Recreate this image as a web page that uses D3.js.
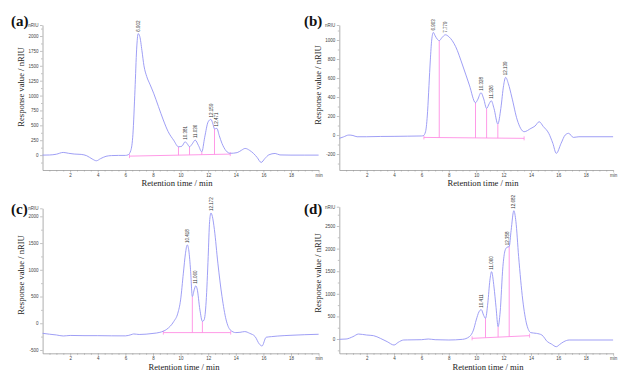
<!DOCTYPE html>
<html><head><meta charset="utf-8">
<script src="https://cdn.jsdelivr.net/npm/d3@7"></script>
<style>
html,body{margin:0;padding:0;background:#fff;}
svg{display:block;}
</style></head>
<body>
<svg id="chart" width="634" height="384"></svg>
<script>
// ---------- DATA ----------
const xTicks = [2, 4, 6, 8, 10, 12, 14, 16, 18, 20];

// Panel (a)
const timesA  = [0,0.5,1.0,1.5,1.9,2.3,2.8,3.2,3.6,3.9,4.2,4.6,5.0,5.5,6.0,6.2,6.4,6.55,6.7,6.82,6.93,7.05,7.2,7.35,7.55,7.8,8.05,8.4,8.75,9.1,9.5,9.85,10.1,10.33,10.5,10.65,10.85,11.06,11.3,11.54,11.75,12.0,12.2,12.35,12.46,12.63,12.8,13.0,13.3,13.6,14.1,14.4,14.68,15.0,15.3,15.55,15.84,16.1,16.4,16.85,17.2,18,19,20];
const valuesA = [0,2,15,45,30,18,12,-10,-65,-95,-60,-20,-8,-5,-5,5,80,350,1100,1780,2040,1990,1760,1500,1320,1180,1040,815,590,395,250,140,150,224,185,140,190,252,160,56,300,560,600,520,440,449,330,197,72,30,42,80,112,80,25,-40,-123,-60,5,28,3,0,0,0];
const yTicksA = [0,250,500,750,1000,1250,1500,1750,2000];
const peakTimesA  = [6.93, 10.33, 11.06, 12.2, 12.63];
const peakValuesA = [2040, 224, 252, 600, 449];
const peakLabelsA = ["6.902", "10.381", "11.036", "12.159", "12.471"];
const dropTimesA  = [9.85, 10.65, 11.54, 12.46];
const baseTimesA  = [6.3, 13.6];
const baseValuesA = [-17, 17];

// Panel (b)
const timesB  = [0,0.3,0.7,1.0,1.3,2,3,4,5,6,6.15,6.3,6.45,6.55,6.65,6.75,6.87,7.0,7.15,7.3,7.5,7.75,8.0,8.5,9.0,9.5,9.95,10.1,10.35,10.55,10.76,10.95,11.1,11.3,11.58,11.8,12.0,12.15,12.35,12.6,13.0,13.5,14.0,14.3,14.6,14.9,15.3,15.6,15.85,16.2,16.5,16.75,17.1,17.5,20];
const valuesB = [-35,-20,0,-5,-18,-18,-15,-14,-12,-10,-5,35,250,520,790,1000,1080,1045,1010,993,1025,1055,1035,930,737,526,340,370,445,380,280,330,361,280,116,280,520,607,540,400,158,35,70,95,140,90,18,-88,-193,-88,0,18,-25,-18,-18];
const yTicksB = [-200,0,200,400,600,800,1000];
const peakTimesB  = [6.87, 7.75, 10.35, 11.1, 12.15];
const peakValuesB = [1080, 1055, 445, 361, 607];
const peakLabelsB = ["6.903", "7.779", "10.328", "11.326", "12.139"];
const dropTimesB  = [7.3, 9.95, 10.76, 11.58];
const baseTimesB  = [6.18, 13.5];
const baseValuesB = [-25, -35];

// Panel (c)
const timesC  = [0,0.5,1,1.5,2,3,4,5,6,6.4,6.6,7,8,8.5,9,9.5,9.8,10.0,10.2,10.35,10.48,10.6,10.72,10.85,11.0,11.1,11.2,11.4,11.58,11.7,11.85,12.0,12.1,12.2,12.3,12.45,12.7,13.0,13.3,13.6,14.0,14.3,14.65,15.0,15.4,15.7,15.9,16.2,16.6,17,18,20];
const valuesC = [-188,-205,-219,-238,-228,-232,-232,-235,-236,-215,-200,-210,-190,-170,-112,31,188,437,937,1300,1465,1350,1000,500,640,700,640,250,35,60,400,1250,1900,2062,2000,1750,1125,500,62,-125,-175,-170,-156,-188,-250,-387,-425,-262,-250,-240,-225,-206];
const yTicksC = [-500,0,500,1000,1500,2000];
const peakTimesC  = [10.48, 11.1, 12.2];
const peakValuesC = [1465, 700, 2062];
const peakLabelsC = ["10.418", "11.060", "12.172"];
const dropTimesC  = [10.85, 11.58];
const baseTimesC  = [8.75, 13.63];
const baseValuesC = [-175, -175];

// Panel (d)
const timesD  = [0,0.5,1.0,1.4,2.0,2.5,3.0,3.5,4.0,4.3,4.7,5,6,6.5,7,8,9,9.5,9.8,10.0,10.2,10.37,10.55,10.68,10.85,11.0,11.12,11.3,11.45,11.6,11.75,11.95,12.1,12.25,12.41,12.55,12.75,12.9,13.1,13.4,13.7,14.0,14.4,14.8,15.2,15.5,15.85,16.1,16.4,16.8,17.5,20];
const valuesD = [-7,0,52,110,88,74,15,-59,-133,-74,-22,-20,-15,0,-15,-22,-7,52,199,420,600,650,520,457,800,1300,1490,1150,700,273,600,1600,1950,2030,2045,2400,2839,2600,1822,863,310,140,125,88,-59,-111,-170,-120,-59,-22,-22,-22];
const yTicksD = [0,500,1000,1500,2000,2500];
const peakTimesD  = [10.37, 11.12, 12.25, 12.75];
const peakValuesD = [650, 1490, 2030, 2839];
const peakLabelsD = ["10.411", "11.060", "12.358", "12.682"];
const dropTimesD  = [10.68, 11.6, 12.41];
const baseTimesD  = [9.7, 13.9];
const baseValuesD = [15, 74];

const panelLetters = ["(a)", "(b)", "(c)", "(d)"];
const xTitle = "Retention time / min";
const yTitle = "Response value / nRIU";

// ---------- LAYOUT ----------
const layout = [
  {x0:42.5, x1:318.6, yTop:25,    yBot:170,   yDom:[-250,2185], lx:11,  ly:26,  ytx:22,    yty:87,  xtx:177, xty:186},
  {x0:339.3,x1:613.1, yTop:25,    yBot:170,   yDom:[-368,1158], lx:304, ly:26,  ytx:319.5, yty:85,  xtx:483, xty:186},
  {x0:42.6, x1:318.6, yTop:208.3, yBot:353.3, yDom:[-562,2150], lx:11,  ly:214, ytx:22,    yty:275, xtx:184, xty:370},
  {x0:339.3,x1:613.1, yTop:206.7, yBot:353.3, yDom:[-316,2927], lx:304, ly:214, ytx:319.5, yty:273, xtx:488, xty:370}
];

const panelsData = [
  {t:timesA, v:valuesA, yt:yTicksA, pt:peakTimesA, pv:peakValuesA, pl:peakLabelsA, dt:dropTimesA, bt:baseTimesA, bv:baseValuesA},
  {t:timesB, v:valuesB, yt:yTicksB, pt:peakTimesB, pv:peakValuesB, pl:peakLabelsB, dt:dropTimesB, bt:baseTimesB, bv:baseValuesB},
  {t:timesC, v:valuesC, yt:yTicksC, pt:peakTimesC, pv:peakValuesC, pl:peakLabelsC, dt:dropTimesC, bt:baseTimesC, bv:baseValuesC},
  {t:timesD, v:valuesD, yt:yTicksD, pt:peakTimesD, pv:peakValuesD, pl:peakLabelsD, dt:dropTimesD, bt:baseTimesD, bv:baseValuesD}
];

const curveColor = "#9494f4";
const pinkColor = "#ff8fe4";
const axisColor = "#9a9a9a";
const tickTextColor = "#444";
const serif = "'Liberation Serif', 'Times New Roman', serif";
const sans = "'Liberation Sans', Arial, sans-serif";

const svg = d3.select("#chart");

function interp(ts, vs, t) {
  for (let i = 0; i < ts.length - 1; i++) {
    if (t >= ts[i] && t <= ts[i+1]) {
      const f = (t - ts[i]) / (ts[i+1] - ts[i]);
      return vs[i] + f * (vs[i+1] - vs[i]);
    }
  }
  return vs[vs.length-1];
}

panelsData.forEach((p, i) => {
  const L = layout[i];
  const x = d3.scaleLinear().domain([0, 20]).range([L.x0, L.x1]);
  const y = d3.scaleLinear().domain(L.yDom).range([L.yBot, L.yTop]);
  const g = svg.append("g");

  // minor x ticks
  const minorX = d3.range(0.5, 20.01, 0.5).filter(d => Math.abs(d % 2) > 1e-6);
  g.append("g").attr("transform", `translate(0,${L.yBot})`)
    .call(d3.axisBottom(x).tickValues(minorX).tickSize(1.5).tickSizeOuter(0).tickFormat(""))
    .call(a => a.select(".domain").remove())
    .call(a => a.selectAll("line").attr("stroke", axisColor).attr("stroke-width", 0.6));

  // x axis
  g.append("g").attr("transform", `translate(0,${L.yBot})`)
    .call(d3.axisBottom(x).tickValues(xTicks).tickSize(2.5).tickSizeOuter(0).tickPadding(1.5)
      .tickFormat(d => d === 20 ? "min" : d))
    .call(a => a.select(".domain").attr("stroke", axisColor).attr("stroke-width", 0.8))
    .call(a => a.selectAll("line").attr("stroke", axisColor).attr("stroke-width", 0.6))
    .call(a => a.selectAll("text").attr("fill", tickTextColor).attr("font-size", 4.5)
      .attr("font-family", sans));

  // y axis minor ticks
  const step = p.yt[1] - p.yt[0];
  const minorY = d3.range(Math.ceil(L.yDom[0] / (step/2)) * (step/2), L.yDom[1], step/2)
    .filter(d => Math.abs(d % step) > 1e-6);
  g.append("g").attr("transform", `translate(${L.x0},0)`)
    .call(d3.axisLeft(y).tickValues(minorY).tickSize(1.5).tickSizeOuter(0).tickFormat(""))
    .call(a => a.select(".domain").remove())
    .call(a => a.selectAll("line").attr("stroke", axisColor).attr("stroke-width", 0.6));

  // y axis
  const yVals = p.yt.concat([L.yDom[1]]);
  g.append("g").attr("transform", `translate(${L.x0},0)`)
    .call(d3.axisLeft(y).tickValues(yVals).tickSize(2.5).tickSizeOuter(0).tickPadding(1.5)
      .tickFormat(d => d === L.yDom[1] ? "nRIU" : d))
    .call(a => a.select(".domain").attr("stroke", axisColor).attr("stroke-width", 0.8))
    .call(a => a.selectAll("line").attr("stroke", axisColor).attr("stroke-width", 0.6))
    .call(a => a.selectAll("text").attr("fill", tickTextColor).attr("font-size", 4.5)
      .attr("font-family", sans));

  // pink baseline
  g.append("line")
    .attr("x1", x(p.bt[0])).attr("y1", y(p.bv[0]))
    .attr("x2", x(p.bt[1])).attr("y2", y(p.bv[1]))
    .attr("stroke", pinkColor).attr("stroke-width", 0.9);
  [0, 1].forEach(k => {
    g.append("line")
      .attr("x1", x(p.bt[k])).attr("x2", x(p.bt[k]))
      .attr("y1", y(p.bv[k]) + 2).attr("y2", y(p.bv[k]) - 2)
      .attr("stroke", pinkColor).attr("stroke-width", 0.8);
  });
  // drop lines
  p.dt.forEach(t => {
    const b = p.bv[0] + (t - p.bt[0]) / (p.bt[1] - p.bt[0]) * (p.bv[1] - p.bv[0]);
    const c = interp(p.t, p.v, t);
    g.append("line")
      .attr("x1", x(t)).attr("x2", x(t))
      .attr("y1", y(b)).attr("y2", y(c))
      .attr("stroke", pinkColor).attr("stroke-width", 0.9);
  });

  // curve
  const pts = p.t.map((t, k) => [t, p.v[k]]);
  g.append("path")
    .datum(pts)
    .attr("fill", "none")
    .attr("stroke", curveColor)
    .attr("stroke-width", 0.9)
    .attr("d", d3.line().x(d => x(d[0])).y(d => y(d[1])).curve(d3.curveMonotoneX));

  // peak labels
  p.pt.forEach((t, k) => {
    const px = x(t), py = y(p.pv[k]) - 2;
    g.append("text")
      .attr("transform", `translate(${px + 1.6},${py}) rotate(-90)`)
      .attr("text-anchor", "start")
      .attr("font-size", 4.5)
      .attr("font-family", sans)
      .attr("fill", "#333")
      .text(p.pl[k]);
  });

  // titles
  g.append("text")
    .attr("x", L.xtx).attr("y", L.xty)
    .attr("text-anchor", "middle")
    .attr("font-family", serif)
    .attr("font-size", 8.6).attr("fill", "#222")
    .text(xTitle);
  g.append("text")
    .attr("transform", `translate(${L.ytx},${L.yty}) rotate(-90)`)
    .attr("text-anchor", "middle")
    .attr("dominant-baseline", "middle")
    .attr("font-family", serif)
    .attr("font-size", 8.6).attr("fill", "#222")
    .text(yTitle);

  // panel letter
  g.append("text")
    .attr("x", L.lx).attr("y", L.ly)
    .attr("font-family", serif)
    .attr("font-weight", "bold")
    .attr("font-size", 15).attr("fill", "#111")
    .text(panelLetters[i]);
});
</script>
</body></html>
